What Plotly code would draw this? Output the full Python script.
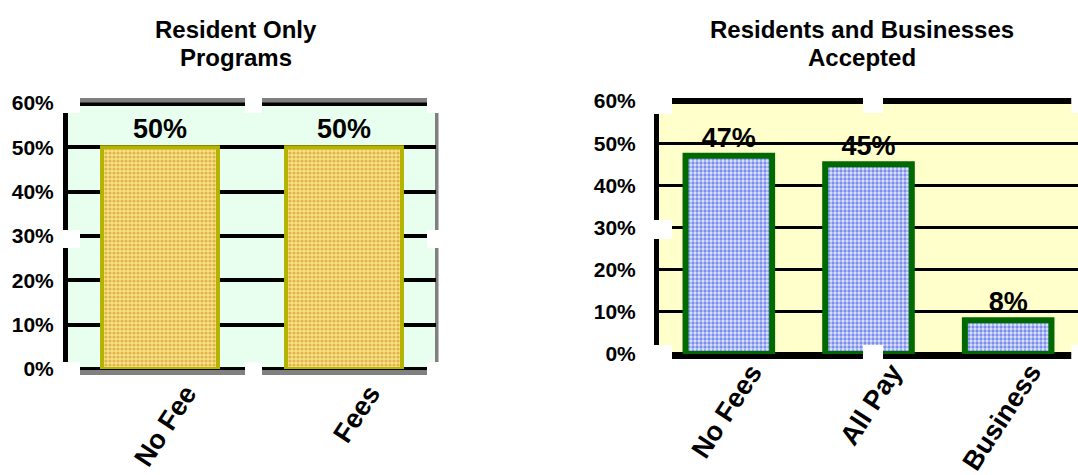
import plotly.graph_objects as go

W, H = 1078, 475

# Resident-only programs
res_categories = ["No Fee", "Fees"]
res_values = [50, 50]

# Programs open to residents and businesses
biz_categories = ["No Fees", "All Pay", "Business"]
biz_values = [47, 45, 8]

y_ticks = [0, 10, 20, 30, 40, 50, 60]
y_tick_labels = [f"{t}%" for t in y_ticks]

left_title = ["Resident Only", "Programs"]
right_title = ["Residents and Businesses", "Accepted"]

FONT = "Arial, Liberation Sans, sans-serif"


def px_x(p):
    return p / W


def px_y(p):
    return 1 - p / H


def rect(x0, x1, y0, y1, color, layer="below"):
    return dict(type="rect", xref="paper", yref="paper",
                x0=px_x(x0), x1=px_x(x1), y0=px_y(y1), y1=px_y(y0),
                fillcolor=color, line=dict(width=0), layer=layer)


bold = dict(family=FONT, color="black", weight="bold")

fig = go.Figure()

fig.add_trace(go.Bar(
    x=res_categories, y=res_values, xaxis="x", yaxis="y",
    width=0.63,
    text=[f"{v}%" for v in res_values], textposition="outside",
    textfont=dict(size=27, **bold), cliponaxis=False,
    marker=dict(
        color="#EFCD6E",
        line=dict(color="#B3B300", width=4),
        pattern=dict(shape=".", fgcolor="#E4B05C", bgcolor="#F6E67A",
                     size=4, solidity=0.5),
    ),
    hoverinfo="skip",
))

fig.add_trace(go.Bar(
    x=biz_categories, y=biz_values, xaxis="x2", yaxis="y2",
    width=0.62,
    text=[f"{v}%" for v in biz_values], textposition="outside",
    textfont=dict(size=27, **bold), cliponaxis=False,
    marker=dict(
        color="#B0BEF4",
        line=dict(color="#006A00", width=6),
        pattern=dict(shape=".", fgcolor="#7A8EEA", bgcolor="#E0E6FF",
                     size=4, solidity=0.55),
    ),
    hoverinfo="skip",
))

yaxis_common = dict(
    range=[0, 60], tickvals=y_ticks, ticktext=y_tick_labels,
    showgrid=True, gridcolor="black", zeroline=False,
    showline=True, linecolor="black", linewidth=5, ticks="",
    tickfont=dict(size=21, **bold), fixedrange=True, automargin=False,
)
xaxis_common = dict(showticklabels=False, showgrid=False, zeroline=False,
                    showline=False, ticks="", fixedrange=True,
                    automargin=False, type="category")

# Frame pieces around each plotting area
shapes = [
    rect(68, 436, 104, 369, "#E8FFF0"),
    rect(659, 1078, 104, 354, "#FFFFCC"),
    # left chart
    rect(80, 427, 98, 103, "#808080"),
    rect(80, 427, 102.5, 106, "black"),
    rect(80, 427, 367, 370, "black"),
    rect(80, 427, 370, 375, "#808080"),
    rect(435, 438.5, 104, 369, "#808080"),
    # right chart
    rect(672, 1071.5, 98, 104, "black"),
    rect(672, 1071.5, 352, 359, "black"),
]
# small white breaks in the frame
notches = [
    (55, 80, 90, 113), (245, 262, 90, 113), (427, 446, 90, 113),
    (55, 80, 230, 248), (427, 446, 230, 248),
    (55, 80, 362, 380), (245, 262, 362, 380), (427, 446, 362, 380),
    (640, 672, 90, 114), (863, 883, 90, 113), (1071.5, 1080, 90, 113),
    (648, 672, 220, 239),
    (648, 672, 345, 365), (863, 883, 345, 362), (1071.5, 1080, 345, 365),
]
shapes += [rect(*n, "white", layer="above") for n in notches]

annotations = []
for cx, lines in ((236, left_title), (862, right_title)):
    for cy, line in zip((30, 58), lines):
        annotations.append(dict(text=line, xref="paper", yref="paper",
                                x=px_x(cx), y=px_y(cy), xanchor="center",
                                yanchor="middle", showarrow=False,
                                font=dict(size=24, **bold)))

for c in res_categories:
    annotations.append(dict(text=c, xref="x", yref="y", x=c, y=0,
                            xanchor="right", yanchor="top", textangle=-57,
                            xshift=45, yshift=-8, showarrow=False,
                            font=dict(size=27, **bold)))
for c in biz_categories:
    annotations.append(dict(text=c, xref="x2", yref="y2", x=c, y=0,
                            xanchor="right", yanchor="top", textangle=-57,
                            xshift=42, yshift=-2, showarrow=False,
                            font=dict(size=27, **bold)))

fig.update_layout(
    template="none",
    width=W, height=H, margin=dict(l=0, r=0, t=0, b=0, pad=0, autoexpand=False),
    paper_bgcolor="white", plot_bgcolor="rgba(0,0,0,0)",
    showlegend=False,
    xaxis=dict(domain=[px_x(68), px_x(436)], range=[-0.5, 1.5],
               anchor="y", **xaxis_common),
    yaxis=dict(domain=[px_y(369), px_y(103)], anchor="x", gridwidth=4,
               ticklabelstandoff=5, **yaxis_common),
    xaxis2=dict(domain=[px_x(659), 1.0], range=[-0.5, 2.5],
                anchor="y2", **xaxis_common),
    yaxis2=dict(domain=[px_y(354), px_y(101)], anchor="x2", gridwidth=3,
                ticklabelstandoff=14, **yaxis_common),
    shapes=shapes,
    annotations=annotations,
)

fig.write_html("out.html")
